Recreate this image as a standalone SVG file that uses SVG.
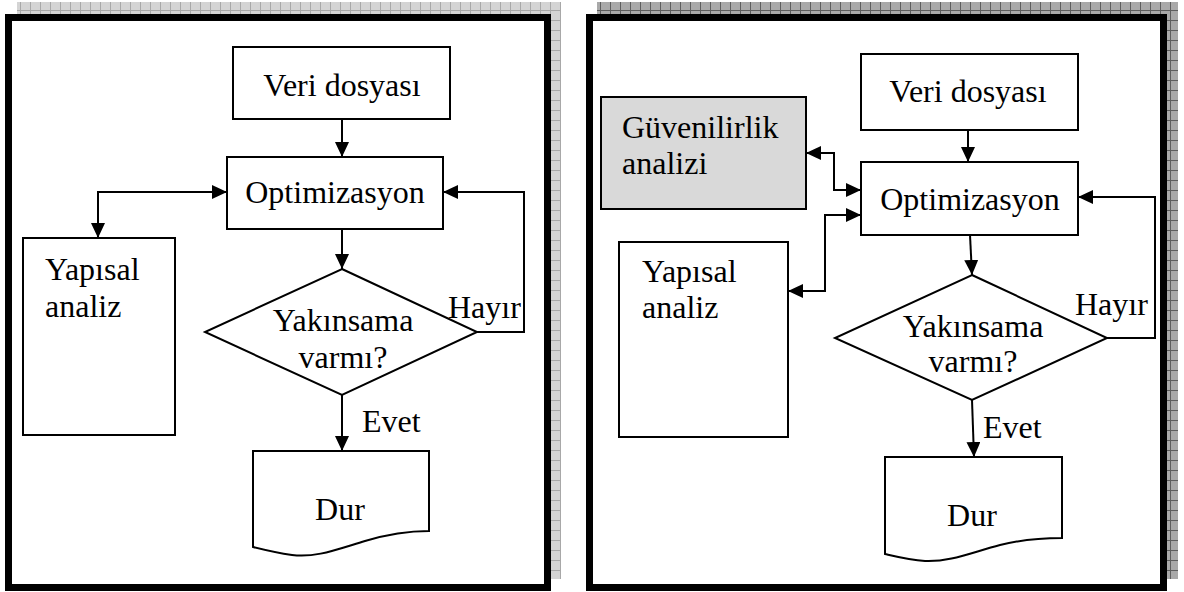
<svg xmlns="http://www.w3.org/2000/svg" width="1184" height="592" viewBox="0 0 1184 592">
<defs>
<pattern id="shadeL" width="10" height="10" patternUnits="userSpaceOnUse">
<rect width="10" height="10" fill="#d4d4d4"/>
<path d="M0,0.5H10M0.5,0V10" stroke="#a8a8a8" stroke-width="1"/>
</pattern>
<pattern id="shadeR" width="10" height="10" patternUnits="userSpaceOnUse">
<rect width="10" height="10" fill="#a9a9a9"/>
<path d="M0,0.5H10M0.5,0V10" stroke="#5e5e5e" stroke-width="1"/>
</pattern>
<marker id="ah" markerWidth="16" markerHeight="14" refX="15" refY="7" orient="auto" markerUnits="userSpaceOnUse">
<path d="M0,0L15,7L0,14Z" fill="#000"/>
</marker>
<marker id="ahs" markerWidth="16" markerHeight="14" refX="0" refY="7" orient="auto" markerUnits="userSpaceOnUse">
<path d="M15,0L0,7L15,14Z" fill="#000"/>
</marker>
</defs>
<style>
.frame{fill:#fff;stroke:#000;stroke-width:7}
.box{fill:#fff;stroke:#000;stroke-width:2}
.gray{fill:#d9d9d9;stroke:#000;stroke-width:2}
.con{fill:none;stroke:#000;stroke-width:2}
.arr{marker-end:url(#ah)}
.arrs{marker-start:url(#ahs)}
text{font-family:"Liberation Serif","Times New Roman",serif;font-size:32px;fill:#000}
.c{text-anchor:middle}
</style>

<g id="panel-left">
<rect x="17" y="2" width="544" height="577" fill="url(#shadeL)"/>
<rect class="frame" x="8.5" y="17.5" width="539" height="570"/>
</g>
<g id="panel-right">
<rect x="597" y="2" width="581" height="577" fill="url(#shadeR)"/>
<rect class="frame" x="589.5" y="17.5" width="574" height="570"/>
</g>

<!-- Left diagram -->
<g id="L-veri"><rect class="box" x="233" y="47" width="217" height="72"/><text class="c" x="342" y="96">Veri dosyası</text></g>
<g id="L-opt"><rect class="box" x="227" y="157" width="216" height="72"/><text class="c" x="335" y="203">Optimizasyon</text></g>
<g id="L-yap"><rect class="box" x="23" y="238" width="152" height="197"/><text x="45" y="280">Yapısal</text><text x="45" y="317">analiz</text></g>
<g id="L-dec"><path class="box" d="M342,269L477,332L342,395L205,332Z"/><text class="c" x="343" y="331">Yakınsama</text><text class="c" x="343" y="368">varmı?</text></g>
<g id="L-dur"><path class="box" d="M253,451H429V531C405,531 385,535 365,541C335,550 315,558 292,555C278,553 265,550 253,547Z"/><text class="c" x="340" y="520">Dur</text></g>

<!-- Right diagram -->
<g id="R-veri"><rect class="box" x="861" y="54" width="217" height="76"/><text class="c" x="968" y="102">Veri dosyası</text></g>
<g id="R-guv"><rect class="gray" x="601" y="97" width="205" height="112"/><text x="622" y="138">Güvenilirlik</text><text x="622" y="174">analizi</text></g>
<g id="R-opt"><rect class="box" x="861" y="162" width="217" height="73"/><text class="c" x="970" y="210">Optimizasyon</text></g>
<g id="R-yap"><rect class="box" x="619" y="242" width="169" height="195"/><text x="642" y="282">Yapısal</text><text x="642" y="318">analiz</text></g>
<g id="R-dec"><path class="box" d="M972,275L1107,338L972,400L835,338Z"/><text class="c" x="973" y="337">Yakınsama</text><text class="c" x="973" y="372">varmı?</text></g>
<g id="R-dur"><path class="box" d="M885,457H1062V538C1040,538 1020,540 1000,545C970,553 950,562 925,561C910,560 898,557 885,554Z"/><text class="c" x="972" y="526">Dur</text></g>

<g id="connectors">
<path class="con arr" d="M342,119V157"/>
<path class="con arr arrs" d="M98,238V192H227"/>
<path class="con arr" d="M342,229V269"/>
<path class="con arr" d="M477,332H524V192H443"/>
<path class="con arr" d="M342,395V451"/>
<text x="448" y="318">Hayır</text>
<text x="362" y="432">Evet</text>

<path class="con arr" d="M968,130V162"/>
<path class="con arr arrs" d="M806,153H834V190H861"/>
<path class="con arr arrs" d="M861,215H825V291H788"/>
<path class="con arr" d="M970,235L972,275"/>
<path class="con arr" d="M1107,338H1155V197H1078"/>
<path class="con arr" d="M972,400L974,457"/>
<text x="1075" y="315">Hayır</text>
<text x="983" y="438">Evet</text>
</g>
</svg>
